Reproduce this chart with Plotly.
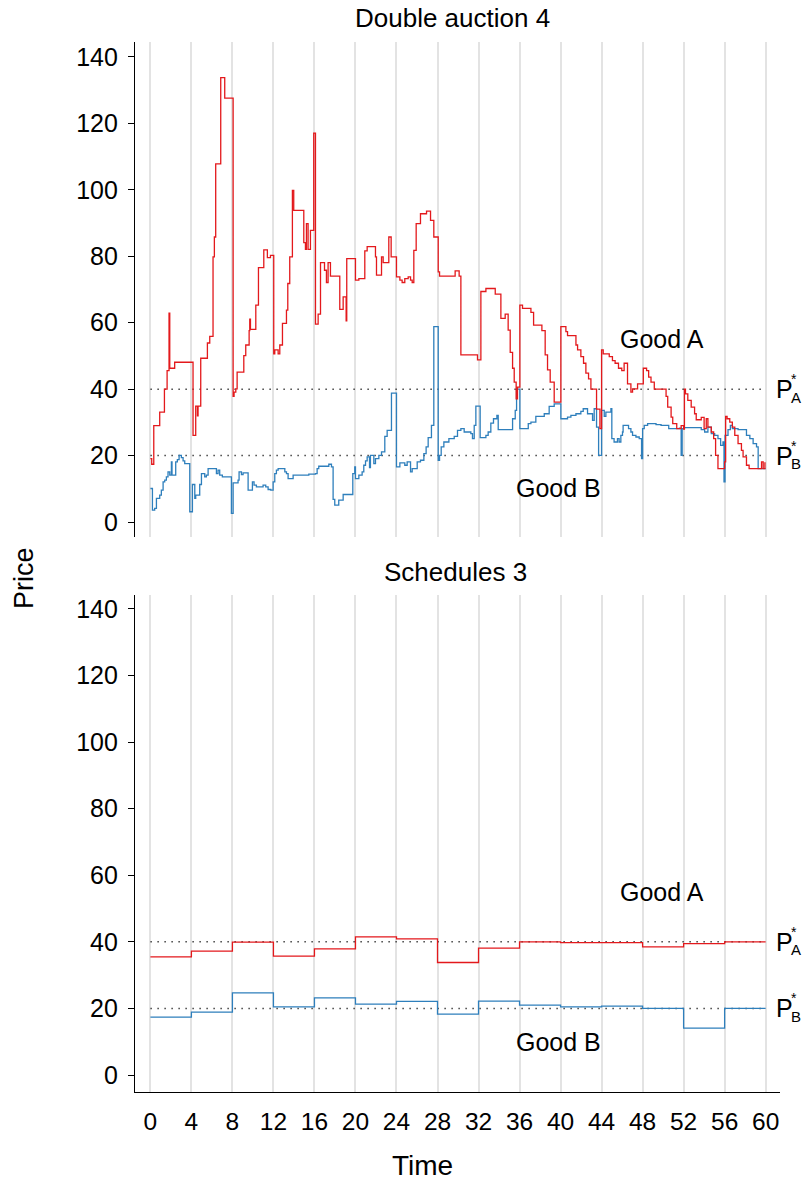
import plotly.graph_objects as go
from plotly.subplots import make_subplots

# ---- Double auction 4: transaction prices over time (step series) ----
da_time_a = [0.0, 0.13, 0.33, 0.91, 1.37, 1.63, 1.82, 1.89, 2.37, 4.16, 4.42, 4.59, 4.65, 4.91,
             5.56, 5.79, 6.11, 6.24, 6.37, 6.86, 7.25, 8.07, 8.16, 8.33, 8.46, 9.11, 9.30, 9.63,
             9.69, 9.76, 10.28, 10.54, 11.06, 11.41, 11.71, 12.03, 12.13, 12.46, 12.62, 12.88,
             13.27, 13.40, 13.59, 13.85, 13.98, 14.96, 15.12, 15.22, 15.38, 15.61, 15.93, 16.10,
             16.36, 16.59, 16.98, 17.17, 17.33, 17.56, 18.47, 18.80, 19.09, 19.15, 20.0, 20.33,
             20.91, 21.14, 21.95, 22.05, 22.54, 22.70, 23.25, 23.48, 24.0, 24.33, 24.55, 24.81,
             25.14, 25.37, 25.53, 25.69, 25.92, 26.34, 26.93, 27.32, 27.64, 28.07, 28.20, 29.72,
             30.11, 30.28, 31.90, 32.23, 32.72, 33.63, 34.18, 34.60, 34.89, 35.09, 35.32, 35.48,
             35.67, 35.80, 36.03, 36.29, 37.11, 37.37, 38.18, 38.50, 38.73, 38.99, 39.38, 40.03,
             40.52, 40.68, 41.50, 41.66, 41.98, 42.24, 42.47, 42.73, 42.96, 43.51, 43.84, 44.0,
             44.16, 44.75, 45.06, 45.32, 45.65, 45.97, 46.20, 46.53, 46.86, 47.02, 47.51, 48.07,
             48.39, 48.59, 48.82, 49.14, 50.29, 50.45, 50.78, 50.94, 51.33, 51.76, 52.0, 52.08,
             52.18, 52.41, 52.74, 53.07, 53.23, 53.72, 54.0, 54.21, 54.37, 54.70, 54.93, 55.12,
             55.35, 56.0, 56.10, 56.24, 56.50, 56.75, 56.99, 57.31, 57.64, 57.80, 58.13, 58.39,
             59.60, 59.76, 59.93, 60.0]
da_price_a = [19.1, 17.4, 29.0, 33.1, 40.0, 45.6, 62.9, 46.3, 48.1, 26.1, 34.9, 32.0, 34.9, 49.3,
              53.9, 55.9, 79.8, 85.8, 107.8, 133.8, 127.6, 37.8, 39.1, 40.1, 45.1, 50.1, 53.3, 57.6,
              61.1, 58.0, 65.3, 76.6, 81.9, 79.6, 80.3, 50.6, 51.8, 50.6, 53.3, 59.8,
              63.8, 71.8, 79.8, 99.8, 93.8, 84.1, 82.1, 89.8, 82.1, 87.8, 117.1, 59.6,
              62.6, 78.1, 75.8, 72.1, 78.1, 74.0, 64.0, 67.8, 60.6, 79.3, 72.8, 73.3,
              81.6, 82.9, 79.8, 74.3, 79.8, 78.1, 85.8, 79.8, 73.8, 72.8, 72.1, 73.3,
              73.8, 72.8, 72.1, 81.8, 89.8, 92.8, 93.6, 90.8, 85.8, 75.3, 74.0, 75.6,
              74.0, 50.3, 48.8, 69.4, 70.3, 68.6, 61.3, 62.6, 57.8, 51.1, 46.3, 42.1,
              37.1, 40.6, 65.3, 64.3, 63.1, 59.3, 57.6, 50.3, 45.8, 42.1, 36.1, 58.8,
              57.3, 56.1, 53.3, 51.8, 49.8, 47.8, 44.8, 43.1, 40.0, 34.0, 28.1, 51.8,
              50.6, 49.8, 48.6, 47.8, 46.3, 45.6, 47.8, 41.6, 39.1, 40.1, 41.6, 46.3,
              45.6, 43.6, 42.1, 40.0, 37.8, 34.6, 31.6, 29.6, 28.1, 29.0, 28.0, 40.0,
              38.6, 36.6, 34.6, 32.6, 30.8, 31.5, 28.1, 31.1, 28.6, 27.1, 25.1, 20.1,
              16.1, 18.1, 31.8, 31.1, 30.1, 28.6, 26.1, 23.6, 21.6, 19.6, 17.1, 16.1,
              18.1, 16.1, 17.8, 17.8]

da_time_b = [0.0, 0.20, 0.42, 0.59, 0.91, 1.07, 1.24, 1.40, 1.56, 1.72, 1.89, 2.05, 2.11, 2.47,
             2.63, 2.80, 3.02, 3.19, 3.35, 3.84, 4.10, 4.33, 4.42, 4.81, 4.98, 5.30, 5.46, 5.63,
             6.44, 6.60, 6.76, 7.02, 7.90, 8.07, 8.55, 8.65, 8.88, 9.04, 9.53, 9.95, 10.11, 10.34,
             10.99, 11.25, 11.48, 11.74, 11.97, 12.13, 12.29, 12.46, 13.11, 13.27, 13.43, 13.92,
             15.45, 16.10, 16.26, 16.42, 17.40, 17.66, 17.82, 17.98, 18.37, 18.80, 19.74, 19.93,
             20.0, 20.33, 20.65, 20.81, 20.98, 21.14, 21.37, 21.46, 21.79, 21.95, 22.28, 22.54,
             22.86, 23.09, 23.51, 24.0, 24.33, 24.81, 25.04, 25.37, 25.53, 26.02, 26.34, 26.67,
             26.89, 27.09, 27.41, 27.64, 28.07, 28.20, 28.36, 28.62, 29.11, 29.63, 29.95, 30.28,
             30.60, 31.25, 31.41, 31.58, 31.74, 32.16, 32.72, 32.94, 33.20, 33.46, 33.79, 33.92,
             35.32, 35.58, 35.71, 36.03, 36.85, 37.11, 37.59, 38.41, 38.89, 39.38, 40.03, 40.68,
             41.01, 41.50, 41.98, 42.21, 42.63, 43.12, 43.28, 43.51, 43.71, 44.0, 44.26, 44.42,
             44.91, 45.0, 45.22, 45.55, 45.71, 45.88, 46.04, 46.10, 46.63, 46.86, 47.02, 47.35,
             47.67, 47.90, 48.0, 48.16, 48.49, 49.31, 49.80, 50.55, 51.59, 51.76, 51.86, 52.08,
             53.72, 54.05, 54.37, 54.70, 55.03, 55.35, 55.61, 55.84, 55.94, 56.04, 56.33, 56.56,
             56.76, 57.31, 58.13, 58.46, 58.78, 59.11, 59.27, 60.0]
da_price_b = [10.1, 3.6, 4.1, 7.1, 8.1, 9.6, 12.1, 12.6, 13.6, 15.1, 14.1, 18.1, 14.1, 18.1,
              18.8, 20.1, 19.4, 18.4, 17.6, 3.1, 11.3, 7.1, 8.1, 11.3, 14.6, 13.6, 14.1, 16.1,
              14.6, 15.6, 14.1, 13.6, 2.6, 11.8, 12.6, 15.1, 14.3, 14.8, 9.6, 12.1, 11.1, 10.6,
              11.1, 10.6, 9.8, 9.6, 12.1, 14.6, 15.6, 16.1, 15.1, 14.6, 13.1, 14.1,
              14.4, 14.6, 16.1, 16.8, 17.4, 16.6, 6.8, 5.1, 6.6, 8.3, 14.6, 16.6,
              13.1, 14.1, 15.1, 17.1, 18.4, 19.6, 16.4, 20.1, 17.6, 19.1, 20.1, 21.1,
              25.8, 27.6, 38.8, 16.6, 17.8, 17.1, 18.1, 15.1, 16.1, 18.1, 18.6, 20.6,
              22.6, 25.4, 29.1, 58.8, 18.6, 20.1, 22.6, 24.1, 25.1, 25.8, 27.6, 28.1,
              27.1, 26.6, 25.1, 29.1, 34.9, 25.4, 26.1, 27.1, 29.8, 31.1, 32.1, 27.8,
              31.1, 33.6, 40.0, 28.1, 29.6, 30.1, 31.8, 32.6, 34.8, 35.6, 31.1, 31.6,
              32.1, 32.6, 33.3, 34.1, 32.6, 30.6, 34.1, 28.6, 20.1, 33.6, 31.8, 33.1,
              34.1, 25.1, 24.1, 25.1, 24.1, 26.1, 27.1, 29.1, 28.1, 27.1, 26.1, 25.6,
              25.1, 19.1, 28.1, 29.1, 29.6, 29.3, 29.1, 28.1, 28.3, 20.1, 28.1, 28.4,
              27.8, 27.1, 28.6, 26.6, 26.1, 25.1, 23.1, 24.1, 12.1, 26.1, 27.8, 29.1,
              28.1, 27.8, 26.1, 25.1, 23.6, 22.6, 16.1, 16.1]

# ---- Schedules 3: one price per 4-period block ----
sched_time = [0, 4, 8, 12, 16, 20, 24, 28, 32, 36, 40, 44, 48, 52, 56, 60]
sched_price_a = [35.5, 37.2, 39.9, 35.7, 37.9, 41.5, 40.9, 33.8, 38.1, 40.0, 39.8, 39.8, 38.5, 39.5, 40.0, 40.0]
sched_price_b = [17.4, 18.9, 24.7, 20.5, 23.2, 21.3, 22.1, 18.3, 22.2, 21.0, 20.5, 20.7, 20.0, 14.1, 20.0, 20.0]

# Equilibrium prices
p_star_a = 40
p_star_b = 20

panel_titles = ["Double auction 4", "Schedules 3"]
x_ticks = list(range(0, 61, 4))
y_ticks = list(range(0, 141, 20))

RED = "#e3191c"
BLUE = "#2e7fbc"
FONT = "Liberation Sans, Arial, sans-serif"

fig = make_subplots(rows=2, cols=1)

panels = [
    (1, da_time_a, da_price_a, da_time_b, da_price_b),
    (2, sched_time, sched_price_a, sched_time, sched_price_b),
]
for row, ta, pa, tb, pb in panels:
    # equilibrium reference lines (sparse dots)
    for p in (p_star_a, p_star_b):
        fig.add_trace(go.Scatter(x=[0, 60], y=[p, p], mode="lines",
                                 line=dict(color="#444444", width=1.5, dash="1.5px,5.5px"),
                                 hoverinfo="skip", showlegend=False), row=row, col=1)
    fig.add_trace(go.Scatter(x=tb, y=pb, mode="lines", line_shape="hv",
                             line=dict(color=BLUE, width=1.3), name="Good B",
                             showlegend=False), row=row, col=1)
    fig.add_trace(go.Scatter(x=ta, y=pa, mode="lines", line_shape="hv",
                             line=dict(color=RED, width=1.3), name="Good A",
                             showlegend=False), row=row, col=1)

# layout geometry
L, R, T, B = 135, 23, 42, 93
W, H = 803, 1185
ph = H - T - B
top_dom = [(1092 - 537) / ph, 1.0]
bot_dom = [0.0, (1092 - 595) / ph]

xcommon = dict(range=[-1.5, 61.4], tickvals=x_ticks, showgrid=True,
               gridcolor="#e3e3e3", gridwidth=1.5, zeroline=False)
ycommon = dict(tickvals=y_ticks, showgrid=False, zeroline=False, showline=True,
               linecolor="black", linewidth=1.2, ticks="outside", ticklen=6,
               tickcolor="black", tickwidth=1.2, ticklabelstandoff=5,
               tickfont=dict(size=25, color="black"))

fig.update_layout(
    width=W, height=H,
    margin=dict(l=L, r=R, t=T, b=B),
    paper_bgcolor="white", plot_bgcolor="white",
    font=dict(family=FONT, color="black"),
    xaxis=dict(domain=[0, 1], anchor="y", showticklabels=False, showline=False, ticks="", **xcommon),
    yaxis=dict(domain=top_dom, anchor="x", range=[-4.5, 144.5], **ycommon),
    xaxis2=dict(domain=[0, 1], anchor="y2", showticklabels=True, showline=True,
                linecolor="black", linewidth=1.2, ticks="outside", ticklen=7,
                tickcolor="rgba(0,0,0,0)", tickfont=dict(size=24.5, color="black"), **xcommon),
    yaxis2=dict(domain=bot_dom, anchor="x2", range=[-5.1, 144.2], **ycommon),
)

ann = []
# panel titles
ann.append(dict(text=panel_titles[0], xref="paper", yref="paper", x=0.493, y=(1092 - 18) / ph,
                showarrow=False, font=dict(size=26), xanchor="center", yanchor="middle"))
ann.append(dict(text=panel_titles[1], xref="paper", yref="paper", x=0.497, y=(1092 - 572) / ph,
                showarrow=False, font=dict(size=26), xanchor="center", yanchor="middle"))
# axis titles
ann.append(dict(text="Price", xref="paper", yref="paper", x=(24 - L) / (W - L - R), y=(1092 - 578) / ph,
                showarrow=False, textangle=-90, font=dict(size=27), xanchor="center", yanchor="middle"))
ann.append(dict(text="Time", xref="paper", yref="paper", x=(422 - L) / (W - L - R), y=(1092 - 1165) / ph,
                showarrow=False, font=dict(size=28), xanchor="center", yanchor="middle"))

for xr, yr, yb in (("x", "y", 10.2), ("x2", "y2", 10.0)):
    ann.append(dict(text="Good A", xref=xr, yref=yr, x=49.9, y=55, showarrow=False,
                    font=dict(size=25), xanchor="center", yanchor="middle"))
    ann.append(dict(text="Good B", xref=xr, yref=yr, x=39.8, y=yb, showarrow=False,
                    font=dict(size=25), xanchor="center", yanchor="middle"))
    for p, sub in ((p_star_a, "A"), (p_star_b, "B")):
        ann.append(dict(text="P", xref=xr, yref=yr, x=60.85, y=p, showarrow=False,
                        font=dict(size=25), xanchor="left", yanchor="middle"))
        ann.append(dict(text="*", xref=xr, yref=yr, x=60.85, y=p, showarrow=False,
                        font=dict(size=14), xanchor="left", yanchor="middle", xshift=15, yshift=10))
        ann.append(dict(text=sub, xref=xr, yref=yr, x=60.85, y=p, showarrow=False,
                        font=dict(size=15), xanchor="left", yanchor="middle", xshift=15, yshift=-8))

fig.update_layout(annotations=ann)

fig.write_html("out.html")
